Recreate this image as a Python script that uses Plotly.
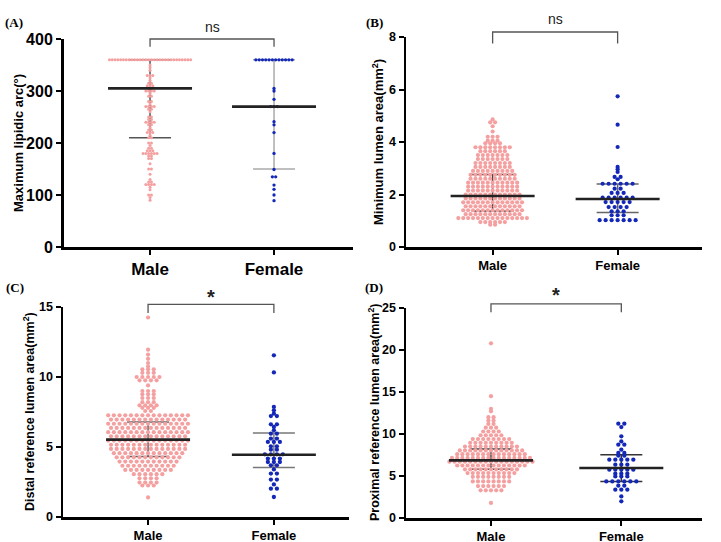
import numpy as np
import plotly.graph_objects as go

W, H = 721, 542
groups = ["Male", "Female"]

# ---------------- DATA ----------------
# Panel A: Maximum lipidic arc (deg)
a_male_levels = [360, 350, 345, 340, 330, 325, 320, 315, 310, 305, 300, 295, 290, 280, 275,
                 270, 265, 260, 250, 245, 240, 235, 230, 225, 220, 215, 210, 200, 195, 190,
                 185, 180, 175, 170, 160, 150, 140, 130, 125, 120, 115, 110, 100, 95, 90]
a_male_counts = [30, 1, 1, 1, 3, 1, 1, 2, 3, 2, 4, 1, 2, 2, 1,
                 4, 2, 1, 2, 2, 4, 2, 1, 2, 3, 1, 2, 2, 1, 2,
                 3, 6, 2, 2, 1, 2, 1, 1, 2, 4, 1, 1, 2, 1, 1]
a_female_levels = [360, 305, 300, 284, 270, 241, 235, 220, 180, 149, 135, 119, 111, 100, 89]
a_female_counts = [12, 1, 1, 1, 3, 1, 1, 1, 1, 1, 2, 1, 1, 1, 1]
a_male_summary = [305, 210, 360]     # median, lower, upper
a_female_summary = [270, 150, 360]

# Panel B: Minimum lumen area (mm2)
b_male_levels = [4.86, 4.75, 4.6, 4.4, 4.2, 4.05, 3.95, 3.8, 3.65, 3.5, 3.35, 3.2, 3.05, 2.9,
                 2.75, 2.6, 2.45, 2.3, 2.15, 2.0, 1.85, 1.7, 1.55, 1.4, 1.25, 1.1, 0.95, 0.85]
b_male_counts = [1, 2, 1, 1, 3, 3, 4, 8, 6, 7, 7, 8, 8, 9,
                 10, 10, 11, 11, 11, 12, 12, 13, 12, 13, 12, 15, 6, 2]
b_female_levels = [5.74, 4.66, 3.81, 3.05, 2.96, 2.86, 2.67, 2.58, 2.41, 2.22, 2.06, 1.88,
                   1.71, 1.52, 1.36, 1.21, 1.02]
b_female_counts = [1, 1, 1, 1, 1, 1, 2, 1, 6, 2, 3, 6, 5, 4, 3, 3, 7]
b_male_summary = [1.94, 1.37, 2.76]
b_female_summary = [1.83, 1.31, 2.40]

# Panel C: Distal reference lumen area (mm2)
c_male_levels = [14.25, 11.95, 11.6, 11.3, 11.0, 10.75, 10.55, 10.3, 10.0, 9.76, 9.4, 9.0,
                 8.76, 8.5, 8.2, 7.98, 7.8, 7.57, 7.26, 6.96, 6.66, 6.36, 6.06, 5.76, 5.46,
                 5.16, 4.86, 4.56, 4.26, 3.96, 3.66, 3.36, 3.06, 2.76, 2.46, 2.25, 1.4]
c_male_counts = [1, 1, 1, 1, 1, 1, 3, 3, 5, 4, 1, 3,
                 3, 3, 3, 4, 3, 2, 15, 14, 15, 14, 15, 14, 15,
                 14, 14, 13, 12, 11, 10, 9, 6, 4, 4, 3, 1]
c_female_levels = [11.55, 10.33, 7.86, 7.62, 7.38, 7.21, 6.62, 6.43, 6.19, 5.95, 5.6, 5.36,
                   5.05, 4.81, 4.48, 4.17, 3.93, 3.69, 3.4, 3.1, 2.67, 2.33, 2.02, 1.43]
c_female_counts = [1, 1, 1, 1, 1, 2, 2, 1, 1, 2, 2, 3, 2, 2, 4, 3, 3, 2, 1, 2, 2, 1, 2, 1]
c_male_summary = [5.53, 4.33, 6.79]
c_female_summary = [4.45, 3.53, 6.00]

# Panel D: Proximal reference lumen area (mm2)
d_male_levels = [20.8, 14.5, 13.0, 12.7, 12.0, 11.6, 11.2, 10.75, 10.3, 9.85, 9.4, 8.95,
                 8.5, 8.05, 7.6, 7.15, 6.7, 6.25, 5.8, 5.35, 4.9, 4.35, 3.8, 3.3, 1.8]
d_male_counts = [1, 1, 1, 1, 2, 2, 2, 3, 4, 5, 8, 9,
                 11, 13, 14, 16, 17, 14, 11, 10, 8, 8, 6, 5, 1]
d_female_levels = [11.23, 10.83, 9.72, 9.12, 8.73, 8.13, 7.74, 7.42, 6.94, 6.35, 5.75, 5.27,
                   4.95, 4.36, 3.85, 3.37, 2.57, 1.98]
d_female_counts = [2, 1, 1, 1, 2, 1, 2, 2, 5, 3, 5, 3, 3, 6, 2, 3, 1, 1]
d_male_summary = [6.86, 5.80, 8.21]
d_female_summary = [5.95, 4.36, 7.54]

y_titles = ["Maximum lipidic arc(°)", "Minimum lumen area(mm<sup>2</sup>)",
            "Distal reference lumen area(mm<sup>2</sup>)",
            "Proximal reference lumen area(mm<sup>2</sup>)"]
panel_labels = ["(A)", "(B)", "(C)", "(D)"]
sig_labels = ["ns", "ns", "*", "*"]

# ---------------- LAYOUT GEOMETRY ----------------
PINK = "#F5A0A0"
BLUE = "#1428B8"

panels = [
    dict(box=(64, 39, 353, 247), xr=(-0.694, 1.637), yr=(0, 400), dtick=100,
         tfs=16, xtfs=17, lw=3, msz=(3.0, 3.3), dsp=(2.8, 3.3),
         data=[(a_male_levels, a_male_counts, a_male_summary),
               (a_female_levels, a_female_counts, a_female_summary)],
         capcol=("#555555", "#AAAAAA"), br=(400, 385), sigy=423,
         title_x=18, label_xy=(14, 22)),
    dict(box=(406, 37, 702, 247), xr=(-0.693, 1.675), yr=(0, 8), dtick=2,
         tfs=12.5, xtfs=13, lw=2.5, msz=(4.2, 4.2), dsp=(4.9, 6.0),
         data=[(b_male_levels, b_male_counts, b_male_summary),
               (b_female_levels, b_female_counts, b_female_summary)],
         capcol=("#444444", "#666666"), br=(8.19, 7.75), sigy=8.67,
         title_x=378, label_xy=(374, 23)),
    dict(box=(63, 307, 349, 517), xr=(-0.676, 1.597), yr=(0, 15), dtick=5,
         tfs=12.5, xtfs=13, lw=2.5, msz=(4.2, 4.3), dsp=(5.7, 6.0),
         data=[(c_male_levels, c_male_counts, c_male_summary),
               (c_female_levels, c_female_counts, c_female_summary)],
         capcol=("#666666", "#777777"), br=(15.19, 14.57), sigy=15.75,
         title_x=29, label_xy=(15, 287)),
    dict(box=(406, 308, 702, 518), xr=(-0.652, 1.619), yr=(0, 25), dtick=5,
         tfs=12.5, xtfs=13, lw=2.5, msz=(4.2, 4.3), dsp=(5.2, 6.0),
         data=[(d_male_levels, d_male_counts, d_male_summary),
               (d_female_levels, d_female_counts, d_female_summary)],
         capcol=("#444444", "#333333"), br=(25.5, 24.48), sigy=26.6,
         title_x=374, label_xy=(374, 287)),
]


def row_layout(vals, d):
    """Prism-style scatter: equal values side by side, centred, d pixels apart."""
    vals = np.asarray(vals, dtype=float)
    out = np.zeros(len(vals))
    for v in np.unique(vals):
        idx = np.where(vals == v)[0]
        n = len(idx)
        out[idx] = (np.arange(n) - (n - 1) / 2.0) * d
    return out


fig = go.Figure()
annotations = []
shapes = []
font_sans = "Liberation Sans, Arial, sans-serif"

for k, p in enumerate(panels):
    sfx = "" if k == 0 else str(k + 1)
    xa, ya = "x" + sfx, "y" + sfx
    x0, y0, x1, y1 = p["box"]
    xr, yr = p["xr"], p["yr"]
    px_x = (x1 - x0) / (xr[1] - xr[0])

    fig.update_layout(**{
        "xaxis" + sfx: dict(domain=[x0 / W, x1 / W], range=list(xr), anchor=ya,
                            automargin=False,
                            tickvals=[0, 1], ticktext=groups, showgrid=False, zeroline=False,
                            showline=True, linecolor="black", linewidth=p["lw"],
                            ticks="outside", ticklen=5, tickwidth=2, tickcolor="black",
                            tickfont=dict(family=font_sans, size=p["xtfs"], color="black",
                                          weight="bold")),
        "yaxis" + sfx: dict(domain=[1 - y1 / H, 1 - y0 / H], range=list(yr), anchor=xa,
                            automargin=False,
                            dtick=p["dtick"], tick0=0, showgrid=False, zeroline=False,
                            showline=True, linecolor="black", linewidth=p["lw"],
                            ticks="outside", ticklen=5, tickwidth=2, tickcolor="black",
                            tickfont=dict(family=font_sans, size=p["tfs"], color="black",
                                          weight="bold")),
    })

    med_traces = []
    for g, (lv, ct, summ) in enumerate(p["data"]):
        med, lo, hi = summ
        hc = 21 / px_x
        hm = 42 / px_x
        fig.add_trace(go.Scatter(
            x=[g, g, None, g - hc, g + hc, None, g - hc, g + hc],
            y=[lo, hi, None, lo, lo, None, hi, hi],
            mode="lines", line=dict(color=p["capcol"][g], width=1.5),
            xaxis=xa, yaxis=ya, hoverinfo="skip", showlegend=False))
        med_traces.append(go.Scatter(
            x=[g - hm, g + hm], y=[med, med], mode="lines",
            line=dict(color="#222222", width=2.6),
            xaxis=xa, yaxis=ya, hoverinfo="skip", showlegend=False))
    for g, (lv, ct, summ) in enumerate(p["data"]):
        vals = np.repeat(np.asarray(lv, dtype=float), ct)
        offs = row_layout(vals, p["dsp"][g]) / px_x
        fig.add_trace(go.Scatter(
            x=g + offs, y=vals, mode="markers",
            marker=dict(size=p["msz"][g], color=PINK if g == 0 else BLUE, line=dict(width=0)),
            xaxis=xa, yaxis=ya, showlegend=False, name=groups[g]))
    for t in med_traces:
        fig.add_trace(t)

    def xd(v):
        return (v - xr[0]) / (xr[1] - xr[0])

    def yd(v):
        return (v - yr[0]) / (yr[1] - yr[0])

    top, drop = p["br"]
    shapes.append(dict(type="path", xref=xa + " domain", yref=ya + " domain",
                       path=f"M {xd(0)} {yd(drop)} L {xd(0)} {yd(top)} L {xd(1)} {yd(top)} L {xd(1)} {yd(drop)}",
                       line=dict(color="#555555", width=1.3)))
    sig = sig_labels[k]
    annotations.append(dict(
        xref=xa + " domain", yref=ya + " domain", x=xd(0.5), y=yd(p["sigy"]),
        text=sig if sig == "ns" else "<b>*</b>", showarrow=False,
        xanchor="center", yanchor="middle",
        font=dict(family=font_sans, size=14 if sig == "ns" else 20, color="#222222")))

    annotations.append(dict(
        xref="paper", yref="paper", x=p["title_x"] / W, y=1 - (y0 + y1) / 2 / H,
        text=y_titles[k], textangle=-90, showarrow=False, xanchor="center", yanchor="middle",
        font=dict(family=font_sans, size=13 if k < 2 else 12.5, color="black", weight="bold")))

    lx, ly = p["label_xy"]
    annotations.append(dict(
        xref="paper", yref="paper", x=lx / W, y=1 - ly / H, text=panel_labels[k],
        showarrow=False, xanchor="center", yanchor="middle",
        font=dict(family="Liberation Serif, Times New Roman, serif", size=13,
                  color="black", weight="bold")))

fig.update_layout(width=W, height=H, autosize=False,
                  margin=dict(l=0, r=0, t=0, b=0, autoexpand=False),
                  paper_bgcolor="white", plot_bgcolor="white",
                  showlegend=False, hovermode=False,
                  annotations=annotations, shapes=shapes)

fig.write_html("out.html",
               config={"displayModeBar": False, "staticPlot": True},
               post_script="document.body.style.margin='0px';"
                           "document.body.style.overflow='hidden';")
